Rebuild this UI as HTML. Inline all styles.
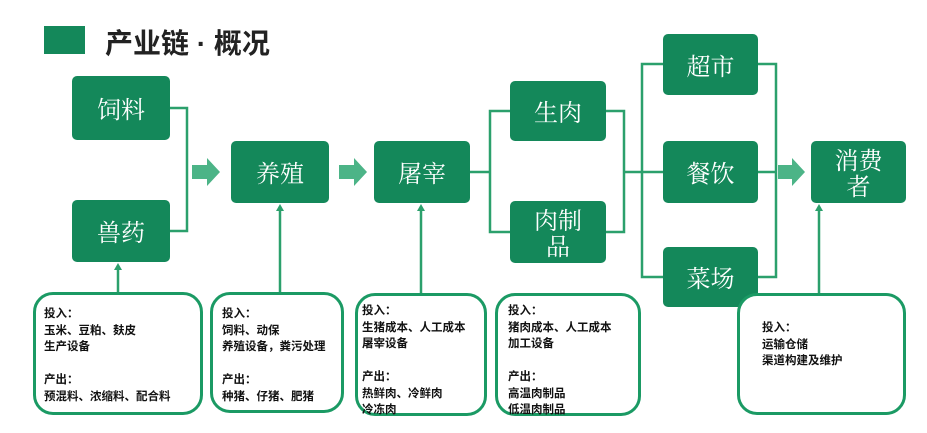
<!DOCTYPE html>
<html><head><meta charset="utf-8"><style>
body{margin:0;width:927px;height:433px;background:#fff;position:relative;overflow:hidden;font-family:"Liberation Sans","Noto Sans CJK SC",sans-serif}
.n{position:absolute;background:#14885a;border-radius:5px;color:#fff;font-family:"Noto Serif CJK SC","Noto Sans CJK SC",serif;font-size:24px;display:flex;align-items:center;justify-content:center;text-align:center;line-height:26px}
.b{position:absolute;border:3px solid #1b9a64;border-radius:20px;box-sizing:border-box;background:#fff}
.t{position:absolute;font-size:11.5px;font-weight:bold;line-height:16.5px;color:#111;white-space:nowrap}
svg{position:absolute;left:0;top:0}
</style></head><body>
<div style="position:absolute;left:44px;top:26px;width:41px;height:28px;background:#14885a"></div>
<div style="position:absolute;left:105px;top:22px;font-size:28px;font-weight:bold;color:#222">产业链 · 概况</div>
<svg width="927" height="433">
<g stroke="#2ba06c" stroke-width="2.5" fill="none">
<polyline points="170,108 187,108 187,231 170,231"/>
<polyline points="470,172 490,172"/>
<polyline points="510,111 490,111 490,232 510,232"/>
<polyline points="606,111 624,111 624,232 606,232"/>
<polyline points="624,172 663,172"/>
<polyline points="663,64 642,64 642,277 663,277"/>
<polyline points="757,64 776,64 776,277 757,277"/>
<polyline points="757,172 776,172"/>
<line x1="118" y1="292" x2="118" y2="268"/>
<line x1="280" y1="292" x2="280" y2="209"/>
<line x1="421" y1="293" x2="421" y2="209"/>
<line x1="819" y1="293" x2="819" y2="209"/>
</g>
<g fill="#2ba06c">
<polygon points="118,263 114,270 122,270"/>
<polygon points="280,204 276,211 284,211"/>
<polygon points="421,204 417,211 425,211"/>
<polygon points="819,204 815,211 823,211"/>
</g>
<g fill="#4cb487">
<polygon points="192,165 207,165 207,158 220,172 207,186 207,179 192,179"/>
<polygon points="339,165 354,165 354,158 367,172 354,186 354,179 339,179"/>
<polygon points="778,165 792,165 792,158 805,172 792,186 792,179 778,179"/>
</g>
</svg>
<div class="n" style="left:72px;top:76px;width:98px;height:64px">饲料</div>
<div class="n" style="left:72px;top:200px;width:98px;height:62px">兽药</div>
<div class="n" style="left:231px;top:141px;width:98px;height:62px">养殖</div>
<div class="n" style="left:374px;top:141px;width:96px;height:62px">屠宰</div>
<div class="n" style="left:510px;top:81px;width:96px;height:60px">生肉</div>
<div class="n" style="left:510px;top:201px;width:96px;height:62px">肉制<br>品</div>
<div class="n" style="left:663px;top:34px;width:95px;height:61px">超市</div>
<div class="n" style="left:663px;top:141px;width:95px;height:62px">餐饮</div>
<div class="n" style="left:663px;top:247px;width:95px;height:60px">菜场</div>
<div class="n" style="left:811px;top:141px;width:95px;height:62px">消费<br>者</div>
<div class="b" style="left:33px;top:292px;width:170px;height:123px"></div>
<div class="b" style="left:210px;top:292px;width:134px;height:121px"></div>
<div class="b" style="left:355px;top:293px;width:132px;height:123px"></div>
<div class="b" style="left:495px;top:293px;width:146px;height:123px"></div>
<div class="b" style="left:737px;top:293px;width:169px;height:122px"></div>
<div class="t" style="left:44px;top:306px">投入：<br>玉米、豆粕、麸皮<br>生产设备<br><br>产出：<br>预混料、浓缩料、配合料</div>
<div class="t" style="left:222px;top:306px">投入：<br>饲料、动保<br>养殖设备，粪污处理<br><br>产出：<br>种猪、仔猪、肥猪</div>
<div class="t" style="left:362px;top:303px">投入：<br>生猪成本、人工成本<br>屠宰设备<br><br>产出：<br>热鲜肉、冷鲜肉<br>冷冻肉</div>
<div class="t" style="left:508px;top:303px">投入：<br>猪肉成本、人工成本<br>加工设备<br><br>产出：<br>高温肉制品<br>低温肉制品</div>
<div class="t" style="left:762px;top:320px">投入：<br>运输仓储<br>渠道构建及维护</div>
</body></html>
